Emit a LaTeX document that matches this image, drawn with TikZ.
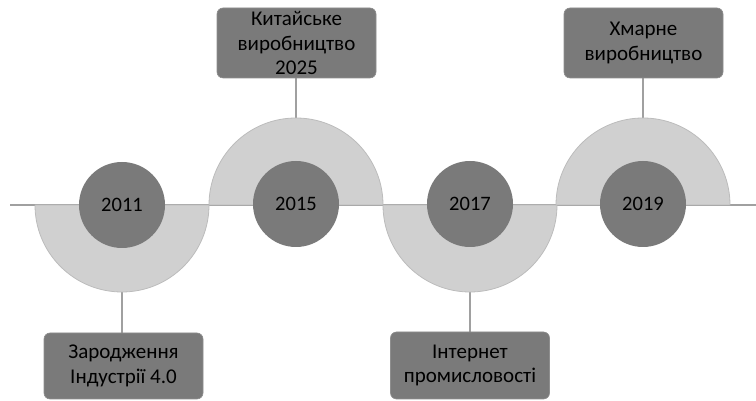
\documentclass[tikz,border=0pt]{standalone}
\usepackage{fontspec}
\setmainfont{Carlito}
\usetikzlibrary{backgrounds}
\definecolor{discfill}{HTML}{D0D0D0}
\definecolor{discedge}{HTML}{BCBCBC}
\definecolor{dark}{HTML}{7A7A7A}
\definecolor{conn}{HTML}{A0A0A0}
\tikzset{
  halfdisc/.style={fill=discfill, draw=discedge, line width=0.8pt},
  year/.style={circle, fill=dark, minimum size=86pt, inner sep=0pt, font=\fontsize{20.5}{24}\selectfont},
  evbox/.style={rounded corners=6pt, fill=dark, draw=dark!85!white, line width=0.6pt, minimum width=159pt, align=center, inner sep=2pt, font=\fontsize{21}{24.5}\selectfont},
  connector/.style={draw=conn, line width=1.8pt},
  baseline/.style={draw=conn, line width=1.2pt}
}
\begin{document}
\begin{tikzpicture}[x=1pt,y=1pt]
\useasboundingbox (0,0) rectangle (756,401);
% baseline
\coordinate (L) at (10,196);
\coordinate (R) at (756,196);
\draw[baseline] (L) -- (R);
% half discs
\draw[halfdisc] (35,196) arc[start angle=180, end angle=360, radius=87] -- cycle;
\draw[halfdisc] (209,196) arc[start angle=180, end angle=0, radius=87] -- cycle;
\draw[halfdisc] (383,196) arc[start angle=180, end angle=360, radius=87] -- cycle;
\draw[halfdisc] (556,196) arc[start angle=180, end angle=0, radius=87] -- cycle;
% year circles
\node[year] (y1) at (122,196) {2011};
\node[year] (y2) at (296,197) {2015};
\node[year] (y3) at (470,197) {2017};
\node[year] (y4) at (643,197) {2019};
% boxes
\node[evbox, minimum height=66pt] (b1) at (123.5,35) {Зародження\\Індустрії 4.0};
\node[evbox, minimum height=70pt] (b2) at (296.5,358) {Китайське\\виробництво\\2025};
\node[evbox, minimum height=67pt] (b3) at (470,35.5) {Інтернет\\промисловості};
\node[evbox, minimum height=70pt] (b4) at (643.5,358) {Хмарне\\виробництво};
% connectors
\begin{pgfonlayer}{background}
\draw[connector] (y1.center) -- (y1.center |- b1.north);
\draw[connector] (y2.center) -- (y2.center |- b2.south);
\draw[connector] (y3.center) -- (y3.center |- b3.north);
\draw[connector] (y4.center) -- (y4.center |- b4.south);
\end{pgfonlayer}
\end{tikzpicture}
\end{document}
